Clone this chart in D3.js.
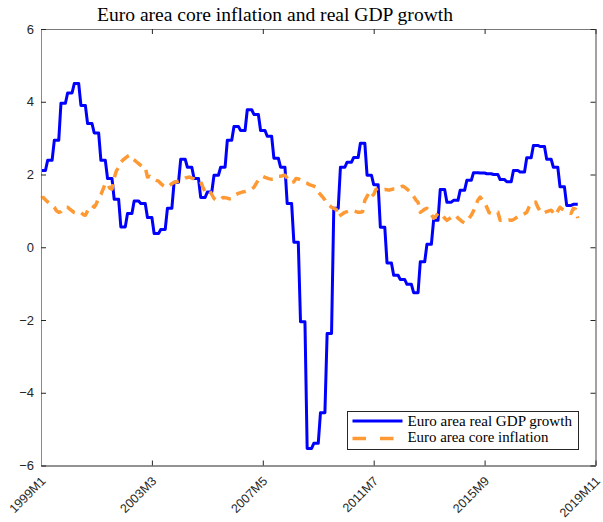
<!DOCTYPE html>
<html><head><meta charset="utf-8">
<script src="https://cdn.jsdelivr.net/npm/d3@7"></script>
<style>body{margin:0;background:#fff}svg{display:block}</style>
</head><body><svg id="c" width="603" height="522"></svg>
<script>
// ---- data ----
const gdpGrowthQuarterly = [ // 1999Q1 .. 2019Q1, year-on-year %
  2.11, 2.39, 2.94, 3.96, 4.24, 4.50, 3.90, 3.40, 3.14, 2.39, 1.89, 1.32,
  0.56, 0.93, 1.27, 1.20, 0.82, 0.38, 0.49, 1.07, 1.79, 2.42, 2.20, 1.89,
  1.37, 1.52, 1.98, 2.20, 2.94, 3.32, 3.21, 3.78, 3.65, 3.21, 3.05, 2.45,
  2.20, 1.20, 0.14, -2.05, -5.53, -5.39, -4.55, -2.37, 1.07, 2.20, 2.34, 2.47,
  2.86, 1.98, 1.72, 0.55, -0.43, -0.77, -0.89, -1.02, -1.25, -0.40, 0.08, 0.74,
  1.59, 1.24, 1.29, 1.57, 1.84, 2.05, 2.04, 2.02, 2.00, 1.86, 1.80, 2.11,
  2.07, 2.46, 2.80, 2.77, 2.42, 2.20, 1.66, 1.15, 1.18
];
const coreInflationMonthly = [ // 1999M1 .. 2019M3, %
  1.35,1.37,1.30,1.25,1.20,1.15,1.10,1.00,0.96,0.98,1.05,1.10,
  1.10,1.05,1.00,0.95,0.93,0.92,0.95,0.90,0.88,1.00,1.10,1.15,
  1.10,1.20,1.37,1.45,1.60,1.75,1.76,1.62,1.60,1.90,2.10,2.20,
  2.34,2.40,2.45,2.50,2.53,2.44,2.40,2.35,2.30,2.25,2.20,2.20,
  1.93,1.95,1.90,1.88,1.84,1.82,1.75,1.70,1.66,1.65,1.70,1.75,
  1.78,1.80,1.82,1.84,1.86,1.90,1.92,1.93,1.90,1.88,1.84,1.82,
  1.80,1.65,1.52,1.55,1.57,1.45,1.34,1.30,1.29,1.30,1.37,1.36,
  1.35,1.33,1.34,1.40,1.45,1.48,1.50,1.52,1.53,1.55,1.57,1.60,
  1.65,1.75,1.85,1.90,1.95,1.92,1.90,1.88,1.87,1.88,1.90,1.95,
  1.95,1.97,1.98,1.90,1.80,1.78,1.80,1.89,1.88,1.85,1.80,1.78,
  1.76,1.72,1.70,1.68,1.65,1.51,1.45,1.38,1.30,1.20,1.15,1.10,
  1.07,1.05,0.83,0.88,0.92,0.96,0.98,1.00,1.02,1.00,0.98,0.96,
  0.96,0.98,1.29,1.40,1.51,1.40,1.45,1.59,1.62,1.60,1.58,1.59,
  1.58,1.57,1.59,1.60,1.60,1.62,1.65,1.68,1.65,1.60,1.55,1.48,
  1.40,1.30,1.24,0.96,1.00,1.05,1.07,1.00,0.90,0.80,0.85,0.94,
  0.92,0.88,0.80,0.74,0.78,0.82,0.85,0.88,0.80,0.75,0.70,0.67,
  0.72,0.80,0.88,1.00,1.15,1.30,1.38,1.30,1.24,1.10,0.95,0.93,
  0.94,0.95,0.96,0.74,0.74,0.76,0.74,0.75,0.74,0.76,0.80,0.85,
  0.86,0.88,0.92,0.96,1.10,1.20,1.22,1.24,1.10,1.00,0.93,0.95,
  0.98,1.00,1.02,0.95,0.88,1.00,1.10,1.05,1.02,0.98,0.95,0.93,
  1.07,1.05,0.80
];
const xTickMonths = [0, 50, 100, 150, 200, 250];
const xTickLabels = ["1999M1", "2003M3", "2007M5", "2011M7", "2015M9", "2019M11"];
const yTicks = [-6, -4, -2, 0, 2, 4, 6];
const seriesNames = ["Euro area real GDP growth", "Euro area core inflation"];
const titleText = "Euro area core inflation and real GDP growth";

// monthly table: quarterly GDP value held for each month of its quarter
const gdpMonthly = gdpGrowthQuarterly.flatMap(v => [v, v, v]);
const gdpData = gdpMonthly.map((v, i) => ({m: i, v}));
const infData = coreInflationMonthly.map((v, i) => ({m: i, v}));

// ---- layout ----
const L = 41, R = 595.5, T = 29, B = 465.5;
const svg = d3.select("#c");
const x = d3.scaleLinear().domain([0, 250]).range([L, R]);
const y = d3.scaleLinear().domain([-6, 6]).range([B, T]);
const sans = "'Liberation Sans', Arial, Helvetica, sans-serif";
const serif = "'Liberation Serif', 'Times New Roman', serif";

svg.append("rect").attr("width", 603).attr("height", 522).attr("fill", "#fff");

// lines
const line = d3.line().x(d => x(d.m)).y(d => y(d.v));
svg.append("path").datum(gdpData).attr("d", line)
  .attr("fill", "none").attr("stroke", "#0000ff").attr("stroke-width", 3)
  .attr("stroke-linejoin", "round");
svg.append("path").datum(infData).attr("d", line)
  .attr("fill", "none").attr("stroke", "#ff9933").attr("stroke-width", 3.5)
  .attr("stroke-dasharray", "10,7").attr("stroke-linejoin", "round");

// axes
const axB = svg.append("g").attr("transform", `translate(0,${B})`)
  .call(d3.axisBottom(x).tickValues(xTickMonths).tickSize(-5).tickSizeOuter(0).tickFormat(""));
const axT = svg.append("g").attr("transform", `translate(0,${T})`)
  .call(d3.axisTop(x).tickValues(xTickMonths).tickSize(-5).tickSizeOuter(0).tickFormat(""));
const axL = svg.append("g").attr("transform", `translate(${L},0)`)
  .call(d3.axisLeft(y).tickValues(yTicks).tickSize(-5).tickSizeOuter(0).tickPadding(7));
const axR = svg.append("g").attr("transform", `translate(${R},0)`)
  .call(d3.axisRight(y).tickValues(yTicks).tickSize(-5).tickSizeOuter(0).tickFormat(""));
axL.selectAll("text").attr("font-family", sans).attr("font-size", 13).attr("fill", "#262626");
axB.select(".domain").attr("stroke", "#262626");
axT.select(".domain").attr("stroke", "#7a7a7a");
axL.select(".domain").attr("stroke", "#8a8a8a");
axR.select(".domain").attr("stroke", "#454545");
svg.selectAll(".tick line").attr("stroke", "#262626");

// rotated x tick labels
svg.append("g").selectAll("text").data(xTickMonths).join("text")
  .attr("transform", (d) => `translate(${x(d) + 3},${B + 14}) rotate(-45)`)
  .attr("text-anchor", "end").attr("dominant-baseline", "middle")
  .attr("font-family", sans).attr("font-size", 12.5).attr("fill", "#262626")
  .text((d, i) => xTickLabels[i]);

// title
svg.append("text").attr("x", 97).attr("y", 20.5)
  .attr("font-family", serif).attr("font-size", 19.5).attr("fill", "#000")
  .attr("textLength", 356).attr("lengthAdjust", "spacingAndGlyphs")
  .text(titleText);

// legend
const lg = svg.append("g");
lg.append("rect").attr("x", 347.5).attr("y", 411.5).attr("width", 231).attr("height", 38)
  .attr("fill", "#fff").attr("stroke", "#262626").attr("stroke-width", 1);
lg.append("line").attr("x1", 352.5).attr("x2", 402.5).attr("y1", 421).attr("y2", 421)
  .attr("stroke", "#0000ff").attr("stroke-width", 3);
lg.append("line").attr("x1", 352.5).attr("x2", 394).attr("y1", 438.5).attr("y2", 438.5)
  .attr("stroke", "#ff9933").attr("stroke-width", 3.5).attr("stroke-dasharray", "13.5,14");
const legW = [164.5, 141];
lg.selectAll("text.lt").data(seriesNames).join("text").attr("class", "lt")
  .attr("x", 407.5).attr("y", (d, i) => 425.5 + i * 16.5)
  .attr("font-family", serif).attr("font-size", 14.5).attr("fill", "#000")
  .attr("textLength", (d, i) => legW[i]).attr("lengthAdjust", "spacingAndGlyphs")
  .text(d => d);
</script>
</body></html>
